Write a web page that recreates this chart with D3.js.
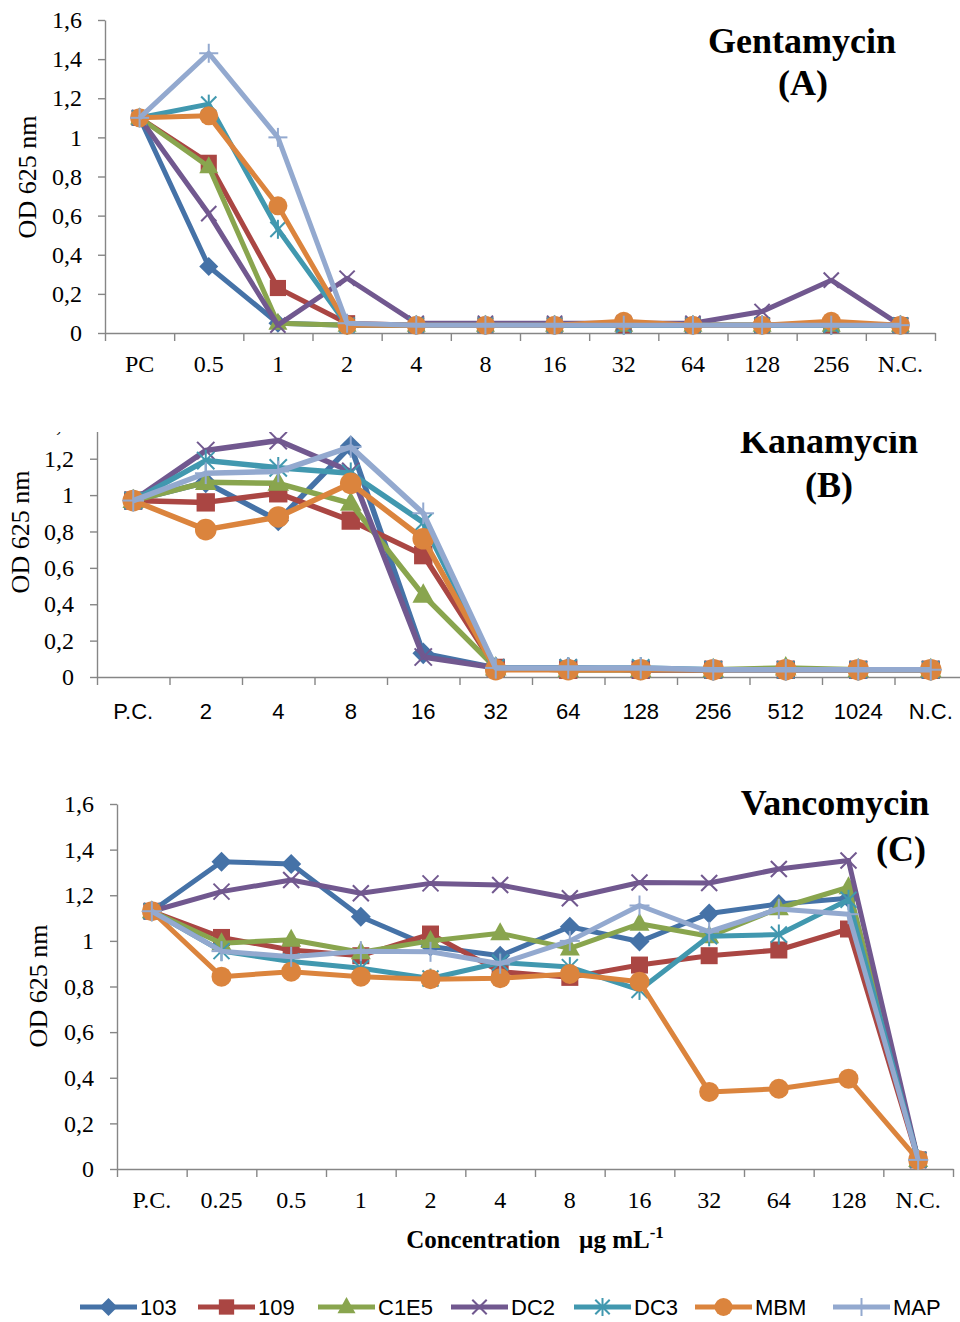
<!DOCTYPE html>
<html>
<head>
<meta charset="utf-8">
<script src="https://cdn.jsdelivr.net/npm/d3@7"></script>
<style>
  body { margin: 0; background: #fff; }
  svg { display: block; }
</style>
</head>
<body>
<div id="chart"></div>
<script>
// series (strains)
var seriesNames = ["103", "109", "C1E5", "DC2", "DC3", "MBM", "MAP"];

// Gentamycin (A)
var gentaCats = ["PC", "0.5", "1", "2", "4", "8", "16", "32", "64", "128", "256", "N.C."];
var gentaYTicks = [0, 0.2, 0.4, 0.6, 0.8, 1, 1.2, 1.4, 1.6];
var gentaOD = [
  [1.10, 0.34, 0.05, 0.04, 0.04, 0.04, 0.04, 0.04, 0.04, 0.04, 0.04, 0.04],
  [1.10, 0.87, 0.23, 0.05, 0.04, 0.04, 0.04, 0.04, 0.04, 0.04, 0.04, 0.04],
  [1.10, 0.85, 0.05, 0.04, 0.04, 0.04, 0.04, 0.04, 0.04, 0.04, 0.04, 0.04],
  [1.10, 0.61, 0.04, 0.28, 0.05, 0.05, 0.05, 0.05, 0.05, 0.11, 0.27, 0.04],
  [1.10, 1.17, 0.53, 0.04, 0.04, 0.04, 0.04, 0.04, 0.04, 0.04, 0.04, 0.04],
  [1.10, 1.11, 0.65, 0.04, 0.04, 0.04, 0.04, 0.06, 0.04, 0.04, 0.06, 0.04],
  [1.10, 1.43, 1.00, 0.05, 0.04, 0.04, 0.04, 0.04, 0.04, 0.04, 0.04, 0.04]
];

// Kanamycin (B)
var kanaCats = ["P.C.", "2", "4", "8", "16", "32", "64", "128", "256", "512", "1024", "N.C."];
var kanaYTicks = [0, 0.2, 0.4, 0.6, 0.8, 1, 1.2, 1.4];
var kanaOD = [
  [0.97, 1.07, 0.86, 1.27, 0.13, 0.05, 0.05, 0.04, 0.04, 0.04, 0.04, 0.04],
  [0.97, 0.96, 1.01, 0.86, 0.67, 0.05, 0.04, 0.04, 0.04, 0.04, 0.04, 0.04],
  [0.97, 1.07, 1.065, 0.955, 0.45, 0.05, 0.04, 0.04, 0.04, 0.05, 0.04, 0.04],
  [0.97, 1.245, 1.30, 1.13, 0.11, 0.05, 0.05, 0.04, 0.04, 0.04, 0.04, 0.04],
  [0.97, 1.19, 1.15, 1.12, 0.85, 0.05, 0.05, 0.05, 0.04, 0.04, 0.04, 0.04],
  [0.97, 0.81, 0.88, 1.065, 0.76, 0.04, 0.04, 0.04, 0.04, 0.04, 0.04, 0.04],
  [0.97, 1.12, 1.13, 1.265, 0.90, 0.05, 0.05, 0.05, 0.04, 0.04, 0.04, 0.04]
];

// Vancomycin (C)
var vancoCats = ["P.C.", "0.25", "0.5", "1", "2", "4", "8", "16", "32", "64", "128", "N.C."];
var vancoYTicks = [0, 0.2, 0.4, 0.6, 0.8, 1, 1.2, 1.4, 1.6];
var vancoOD = [
  [1.13, 1.347, 1.337, 1.106, 0.975, 0.935, 1.062, 0.997, 1.12, 1.162, 1.187, 0.04],
  [1.13, 1.015, 0.96, 0.935, 1.03, 0.865, 0.84, 0.894, 0.935, 0.96, 1.052, 0.04],
  [1.13, 0.99, 1.005, 0.95, 1.0, 1.033, 0.967, 1.075, 1.02, 1.143, 1.235, 0.04],
  [1.13, 1.216, 1.267, 1.209, 1.252, 1.245, 1.187, 1.256, 1.254, 1.315, 1.352, 0.04],
  [1.13, 0.955, 0.91, 0.88, 0.835, 0.905, 0.885, 0.785, 1.02, 1.028, 1.18, 0.04],
  [1.13, 0.843, 0.865, 0.843, 0.832, 0.836, 0.855, 0.821, 0.338, 0.352, 0.396, 0.04],
  [1.13, 0.955, 0.93, 0.955, 0.952, 0.9, 1.0, 1.155, 1.04, 1.14, 1.117, 0.04]
];

// styles
var seriesColors = ["#4572A7", "#AA4643", "#89A54E", "#71588F", "#4198AF", "#DB843D", "#93A9CF"];
var seriesMarkers = ["diamond", "square", "triangle", "x", "star", "circle", "plus"];

var SERIF = "'Liberation Serif', 'Times New Roman', serif",
    SANS = "'Liberation Sans', Arial, sans-serif",
    AXIS_GREY = "#868686";

var width = 960, height = 1322;

var svg = d3.select("#chart").append("svg")
    .attr("width", width)
    .attr("height", height);

svg.append("defs").append("clipPath")
    .attr("id", "clipB")
  .append("rect")
    .attr("x", 0).attr("y", 432)
    .attr("width", width).attr("height", 330);

/**
 * Draw one marker glyph at (x, y)
 */
function marker(g, type, x, y, color, k) {
  k = k || 1;
  var s;
  if (type == "diamond") {
    s = 10 * k;
    g.append("path")
      .attr("d", "M" + x + "," + (y - s) + "L" + (x + s) + "," + y + "L" + x + "," + (y + s) + "L" + (x - s) + "," + y + "Z")
      .attr("fill", color);
  } else if (type == "square") {
    s = 8.5 * k;
    g.append("rect")
      .attr("x", x - s).attr("y", y - s)
      .attr("width", 2 * s).attr("height", 2 * s)
      .attr("fill", color);
  } else if (type == "triangle") {
    s = 10 * k;
    g.append("path")
      .attr("d", "M" + x + "," + (y - 1.1 * s) + "L" + (x + s) + "," + (y + 0.7 * s) + "L" + (x - s) + "," + (y + 0.7 * s) + "Z")
      .attr("fill", color);
  } else if (type == "circle") {
    g.append("circle")
      .attr("cx", x).attr("cy", y).attr("r", 10 * k)
      .attr("fill", color);
  } else {
    s = 8 * k;
    var segs = [];
    if (type == "x" || type == "star") {
      segs.push([x - s, y - s, x + s, y + s], [x - s, y + s, x + s, y - s]);
    }
    if (type == "star") {
      segs.push([x, y - 10 * k, x, y + 10 * k]);
    }
    if (type == "plus") {
      segs.push([x - 10 * k, y, x + 10 * k, y], [x, y - 10 * k, x, y + 10 * k]);
    }
    for (const sg of segs) {
      g.append("line")
        .attr("x1", sg[0]).attr("y1", sg[1])
        .attr("x2", sg[2]).attr("y2", sg[3])
        .attr("stroke", color)
        .attr("stroke-width", 2);
    }
  }
}

function commaFormat(d) {
  return d3.format("~g")(d).replace(".", ",");
}

/**
 * Draw one panel of the figure
 */
function drawPanel(cfg, cats, values, yTicks) {
  var g = svg.append("g");
  if (cfg.clip) g.attr("clip-path", "url(#" + cfg.clip + ")");

  var x = d3.scaleBand().domain(cats).range([cfg.left, cfg.right]),
      xi = d3.scaleLinear().domain([0, cats.length]).range([cfg.left, cfg.right]),
      y = d3.scaleLinear().domain([0, cfg.ymax]).range([cfg.bottom, cfg.top]),
      bw = x.bandwidth();

  // y axis
  var yAxis = g.append("g")
    .attr("transform", "translate(" + cfg.left + ",0)")
    .call(d3.axisLeft(y).tickValues(yTicks).tickFormat(commaFormat)
      .tickSize(7).tickSizeOuter(0).tickPadding(16));
  yAxis.selectAll("text")
    .attr("font-family", SERIF)
    .attr("font-size", 24)
    .attr("fill", "#000");

  // x axis, ticks between categories
  var xAxis = g.append("g")
    .attr("transform", "translate(0," + cfg.bottom + ")")
    .call(d3.axisBottom(xi).tickValues(d3.range(cats.length + 1)).tickFormat("")
      .tickSize(8).tickSizeOuter(0));

  g.selectAll(".domain, .tick line")
    .attr("stroke", AXIS_GREY)
    .attr("stroke-width", 1.4);

  g.selectAll(".xlab")
    .data(cats)
    .enter().append("text")
    .attr("class", "xlab")
    .attr("x", function(d) { return x(d) + bw / 2; })
    .attr("y", cfg.bottom + cfg.xlabOffset)
    .attr("text-anchor", "middle")
    .attr("font-family", cfg.xFont)
    .attr("font-size", cfg.xFontSize)
    .text(function(d) { return d; });

  // y axis title
  g.append("text")
    .attr("transform", "translate(" + cfg.ytitleX + "," + cfg.ytitleY + ") rotate(-90)")
    .attr("text-anchor", "middle")
    .attr("font-family", SERIF)
    .attr("font-size", 26)
    .text("OD 625 nm");

  // series: line then markers, one after another
  var line = d3.line()
    .x(function(d, i) { return x(cats[i]) + bw / 2; })
    .y(function(d) { return y(d); });

  values.forEach(function(row, s) {
    var sg = g.append("g");
    sg.append("path")
      .datum(row)
      .attr("d", line)
      .attr("fill", "none")
      .attr("stroke", seriesColors[s])
      .attr("stroke-width", cfg.lineWidth)
      .attr("stroke-linejoin", "round");
    row.forEach(function(v, i) {
      marker(sg, seriesMarkers[s], x(cats[i]) + bw / 2, y(v), seriesColors[s], cfg.markerScale);
    });
  });

  // panel title
  cfg.title.forEach(function(t) {
    g.append("text")
      .attr("x", t.x).attr("y", t.y)
      .attr("text-anchor", "middle")
      .attr("font-family", SERIF)
      .attr("font-weight", "bold")
      .attr("font-size", 36)
      .text(t.text);
  });
}

drawPanel({
  left: 105, right: 935, top: 20, bottom: 333, ymax: 1.6,
  xlabOffset: 39, xFont: SERIF, xFontSize: 24,
  ytitleX: 36, ytitleY: 177,
  lineWidth: 5, markerScale: 0.95,
  title: [{text: "Gentamycin", x: 802, y: 53}, {text: "(A)", x: 803, y: 95}]
}, gentaCats, gentaOD, gentaYTicks);

drawPanel({
  left: 97, right: 967, top: 677 - 1.4 * 181.9, bottom: 677, ymax: 1.4,
  xlabOffset: 42, xFont: SANS, xFontSize: 22,
  ytitleX: 29, ytitleY: 532,
  lineWidth: 5.5, markerScale: 1.08, clip: "clipB",
  title: [{text: "Kanamycin", x: 829, y: 453}, {text: "(B)", x: 829, y: 497}]
}, kanaCats, kanaOD, kanaYTicks);

drawPanel({
  left: 117, right: 953, top: 804, bottom: 1169, ymax: 1.6,
  xlabOffset: 39, xFont: SERIF, xFontSize: 24,
  ytitleX: 47, ytitleY: 986,
  lineWidth: 5, markerScale: 1,
  title: [{text: "Vancomycin", x: 835, y: 815}, {text: "(C)", x: 901, y: 861}]
}, vancoCats, vancoOD, vancoYTicks);

// x axis title
var xt = svg.append("text")
  .attr("x", 535).attr("y", 1248)
  .attr("text-anchor", "middle")
  .attr("font-family", SERIF)
  .attr("font-weight", "bold")
  .attr("font-size", 25)
  .style("white-space", "pre");
xt.append("tspan").text("Concentration   \u00b5g mL");
xt.append("tspan").attr("dy", -10).attr("font-size", 17).text("-1");

// legend
var legendX = [80, 198, 318, 451, 574, 695, 833],
    legendY = 1307;
var legend = svg.append("g");
seriesNames.forEach(function(name, s) {
  var lx = legendX[s];
  legend.append("line")
    .attr("x1", lx).attr("x2", lx + 57)
    .attr("y1", legendY).attr("y2", legendY)
    .attr("stroke", seriesColors[s])
    .attr("stroke-width", 5);
  marker(legend, seriesMarkers[s], lx + 28.5, legendY, seriesColors[s], 0.9);
  legend.append("text")
    .attr("x", lx + 60).attr("y", legendY + 8)
    .attr("font-family", SANS)
    .attr("font-size", 22)
    .text(name);
});
</script>
</body>
</html>
